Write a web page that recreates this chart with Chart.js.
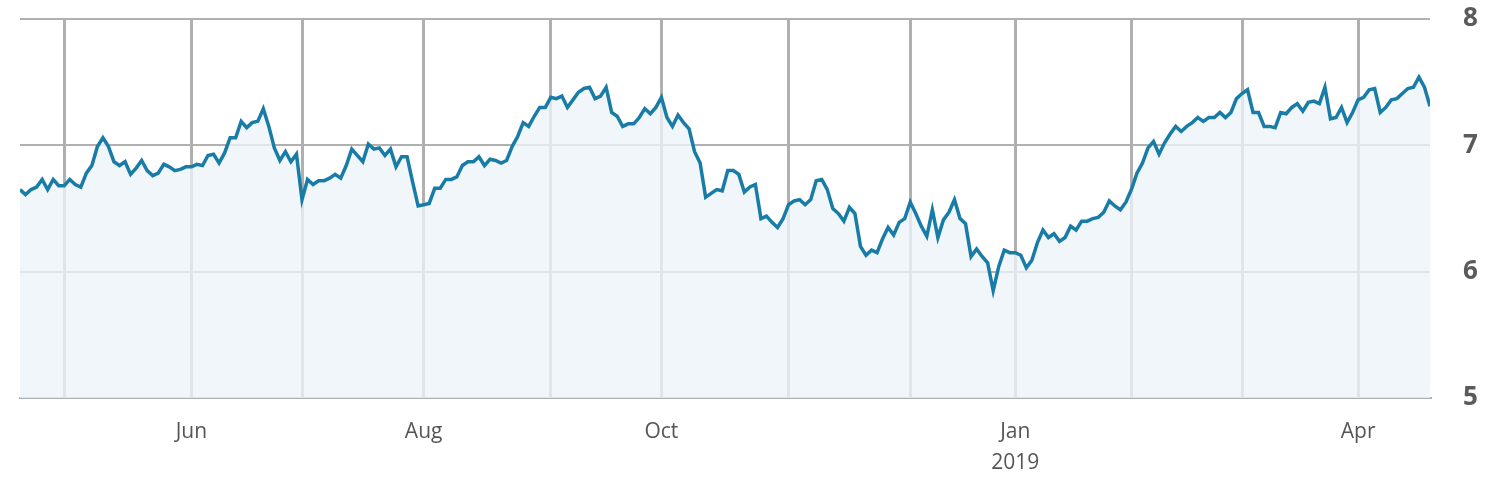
<!DOCTYPE html>
<html lang="en">
<head>
    <meta charset="UTF-8">
    <title>Price chart</title>
    <script src="https://cdn.jsdelivr.net/npm/chart.js"></script>
    <style>
        body { margin: 0; background: #fff; }
        #wrap { width: 1500px; height: 500px; position: relative; }
    </style>
</head>
<body>
    <div id="wrap"><canvas id="price-chart"></canvas></div>

    <script>
        // one value per trading day, mid-Apr 2018 .. mid-Apr 2019
        const values = [
            6.65,6.61,6.65,6.67,6.73,6.65,6.73,6.68,6.68,6.73,6.69,6.67,6.78,6.84,6.99,7.06,
            6.99,6.87,6.84,6.87,6.77,6.82,6.88,6.80,6.76,6.78,6.85,6.83,6.80,6.81,6.83,6.83,
            6.85,6.84,6.92,6.93,6.86,6.94,7.06,7.06,7.19,7.14,7.18,7.19,7.29,7.15,6.98,6.88,
            6.95,6.87,6.93,6.57,6.73,6.69,6.72,6.72,6.74,6.77,6.74,6.84,6.97,6.92,6.87,7.01,
            6.97,6.98,6.92,6.97,6.83,6.91,6.91,6.71,6.52,6.53,6.54,6.66,6.66,6.73,6.73,6.75,
            6.84,6.87,6.87,6.91,6.84,6.89,6.88,6.86,6.88,6.99,7.07,7.18,7.15,7.23,7.30,7.30,
            7.38,7.37,7.39,7.30,7.36,7.42,7.45,7.46,7.37,7.39,7.46,7.26,7.23,7.15,7.17,7.17,
            7.22,7.29,7.25,7.30,7.38,7.22,7.15,7.24,7.18,7.13,6.95,6.86,6.59,6.62,6.65,6.64,
            6.80,6.80,6.77,6.63,6.67,6.69,6.42,6.44,6.39,6.35,6.42,6.53,6.56,6.57,6.53,6.57,
            6.72,6.73,6.65,6.50,6.46,6.40,6.51,6.46,6.20,6.13,6.17,6.15,6.26,6.35,6.29,6.39,
            6.42,6.55,6.46,6.36,6.28,6.49,6.27,6.41,6.47,6.57,6.42,6.38,6.12,6.18,6.12,6.07,
            5.85,6.04,6.17,6.15,6.15,6.13,6.03,6.09,6.23,6.33,6.27,6.30,6.24,6.27,6.36,6.33,
            6.40,6.40,6.42,6.43,6.47,6.56,6.52,6.49,6.55,6.65,6.78,6.86,6.98,7.03,6.93,7.02,
            7.09,7.15,7.11,7.15,7.18,7.22,7.19,7.22,7.22,7.26,7.22,7.26,7.37,7.41,7.44,7.26,
            7.26,7.15,7.15,7.14,7.26,7.25,7.30,7.33,7.27,7.34,7.35,7.33,7.46,7.21,7.22,7.30,
            7.18,7.26,7.36,7.38,7.44,7.45,7.26,7.30,7.36,7.37,7.41,7.45,7.46,7.54,7.46,7.31
        ];

        // index of the first trading day of each month (May 2018 .. Apr 2019)
        const monthStarts = [8, 31, 51, 73, 96, 116, 139, 161, 180, 201, 221, 242];
        const tickLabels = ['', 'Jun', '', 'Aug', '', 'Oct', '', '', ['Jan', '2019'], '', '', 'Apr'];

        const yTicks = [5, 6, 7, 8];

        const gridGray = '#b0b0b0';

        const ctx = document.getElementById('price-chart').getContext('2d');
        new Chart(ctx, {
            type: 'line',
            data: {
                datasets: [{
                    data: values.map((v, i) => ({ x: i, y: v })),
                    borderColor: '#197ca6',
                    borderWidth: 3.5,
                    backgroundColor: 'rgba(236, 244, 249, 0.78)',
                    fill: 'start',
                    pointRadius: 0,
                    tension: 0
                }]
            },
            options: {
                responsive: true,
                maintainAspectRatio: false,
                animation: false,
                layout: { padding: { top: 19, left: 20, right: 0, bottom: 0 } },
                plugins: {
                    legend: { display: false },
                    tooltip: { enabled: false }
                },
                scales: {
                    x: {
                        type: 'linear',
                        min: 0,
                        max: values.length - 1,
                        afterBuildTicks: axis => {
                            axis.ticks = monthStarts.map(v => ({ value: v }));
                        },
                        afterFit: axis => {
                            axis.height = 102;
                            axis.paddingLeft = 0;
                            axis.paddingRight = 0;
                        },
                        grid: { color: gridGray, lineWidth: 3, drawTicks: false },
                        border: { color: gridGray, width: 2 },
                        ticks: {
                            autoSkip: false,
                            maxRotation: 0,
                            padding: 19,
                            color: '#555',
                            font: { family: 'Open Sans', size: 21, lineHeight: 1.45 },
                            callback: (value, index) => tickLabels[index]
                        }
                    },
                    y: {
                        position: 'right',
                        min: 5,
                        max: 8,
                        afterBuildTicks: axis => {
                            axis.ticks = yTicks.map(v => ({ value: v }));
                        },
                        afterFit: axis => {
                            axis.width = 70;
                            axis.paddingTop = 0;
                            axis.paddingBottom = 0;
                        },
                        grid: { color: gridGray, lineWidth: 2, drawTicks: false },
                        border: { display: false },
                        ticks: {
                            padding: 33,
                            color: '#5b5b5b',
                            font: { family: 'Open Sans', size: 26, weight: 'bold' }
                        }
                    }
                }
            }
        });
    </script>
</body>
</html>
